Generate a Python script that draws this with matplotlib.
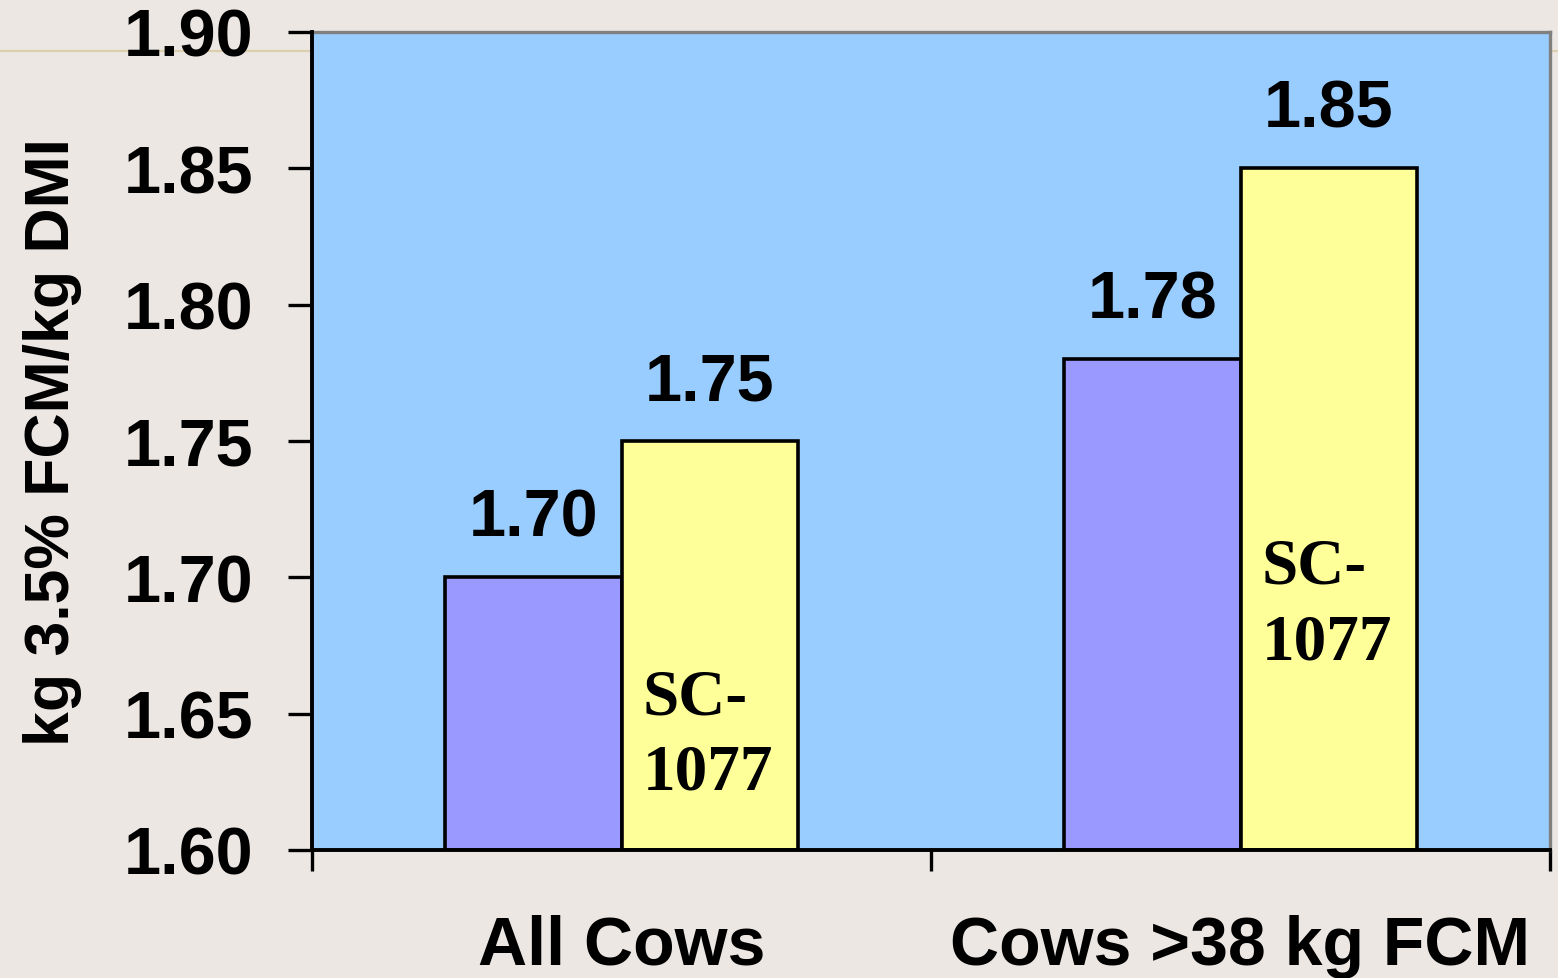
import matplotlib
matplotlib.use("Agg")
import matplotlib.pyplot as plt
from matplotlib.lines import Line2D

# Feed efficiency by group
categories = ["All Cows", "Cows >38 kg FCM"]
control = [1.70, 1.78]
sc1077 = [1.75, 1.85]
value_labels_control = ["1.70", "1.78"]
value_labels_sc = ["1.75", "1.85"]
yticks = [1.60, 1.65, 1.70, 1.75, 1.80, 1.85, 1.90]
ylabel = "kg 3.5% FCM/kg DMI"
treatment_label = "SC-\n1077"

BG = "#ECE7E3"
PLOT_BG = "#99CCFF"
PURPLE = "#9999FF"
YELLOW = "#FFFF99"

sans = "Liberation Sans"
serif = "Liberation Serif"

fig = plt.figure(figsize=(15.58, 9.79), dpi=100, facecolor=BG)
ax = fig.add_axes([312 / 1558, 1 - 851 / 979, 1238 / 1558, 818 / 979])
ax.set_facecolor(PLOT_BG)

# decorative rule across the slide
fig.add_artist(Line2D([0, 1], [1 - 52 / 979] * 2, transform=fig.transFigure,
                      color="#DCCFAE", lw=1.6, zorder=0))

centers = [0.5, 1.5]
width = 0.285
xc = [c - width / 2 for c in centers]
xs = [c + width / 2 for c in centers]

ax.bar(xc, [v - 1.60 for v in control], width, bottom=1.60,
       color=PURPLE, edgecolor="black", linewidth=2.6, zorder=2)
ax.bar(xs, [v - 1.60 for v in sc1077], width, bottom=1.60,
       color=YELLOW, edgecolor="black", linewidth=2.6, zorder=2)

for x, v, t in zip(xc + xs, control + sc1077,
                   value_labels_control + value_labels_sc):
    ax.annotate(t, (x, v), xytext=(0, 30), textcoords="offset points",
                ha="center", va="baseline", fontsize=48, fontweight="bold",
                family=sans)

# treatment tag inside the SC-1077 bars
tag_y = [1.667, 1.715]
for x, y in zip(xs, tag_y):
    ax.text(x - width / 2 + 0.034, y, treatment_label, ha="left", va="top",
            fontsize=47, fontweight="bold", family=serif, linespacing=1.34,
            zorder=3)

ax.set_xlim(0, 2)
ax.set_ylim(1.60, 1.90)
ax.set_yticks(yticks)
ax.set_yticklabels([f"{t:.2f}" for t in yticks], fontsize=48,
                   fontweight="bold", family=sans)
ax.tick_params(axis="y", direction="out", length=17, width=2.4, pad=25,
               color="black")

ax.set_xticks([0, 1, 2])
ax.set_xticklabels([])
ax.tick_params(axis="x", which="major", direction="out", length=15, width=2.4)
ax.set_xticks(centers, minor=True)
ax.set_xticklabels(categories, minor=True, fontsize=49, fontweight="bold",
                   family=sans)
ax.tick_params(axis="x", which="minor", length=0, pad=46)

ax.set_ylabel(ylabel, fontsize=45, fontweight="bold", family=sans,
              labelpad=30)

for side in ("left", "bottom"):
    ax.spines[side].set_color("black")
    ax.spines[side].set_linewidth(2.8)
    ax.spines[side].set_zorder(4)
for side in ("top", "right"):
    ax.spines[side].set_color("#808080")
    ax.spines[side].set_linewidth(2.4)

fig.savefig("out.png", dpi=100, facecolor=BG)
